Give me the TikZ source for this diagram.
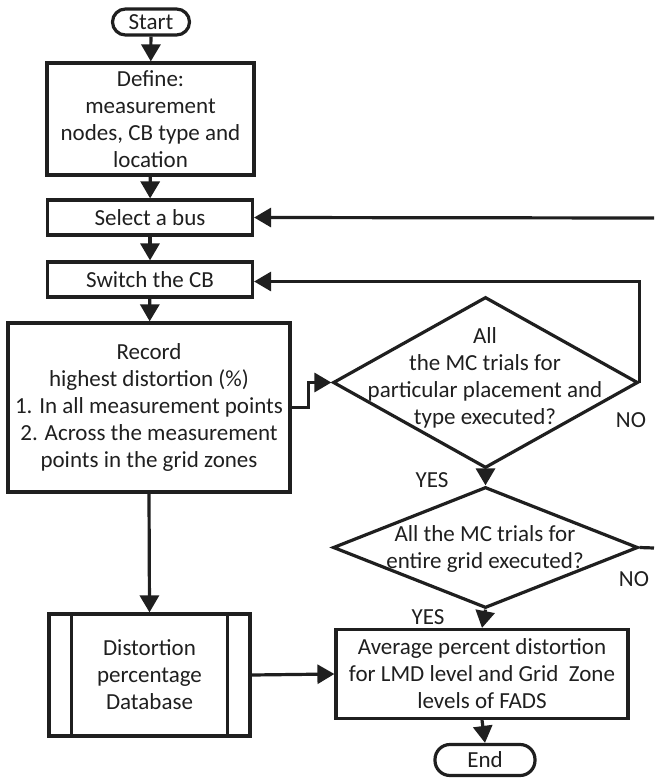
\documentclass[tikz,border=0pt]{standalone}
\usepackage{fontspec}
\setmainfont{Carlito}
\usetikzlibrary{shapes.geometric,arrows.meta,calc}
\begin{document}
\begin{tikzpicture}[x=1pt,y=-1pt,
  every node/.style={font=\fontsize{23}{27}\selectfont, text=black!88},
  ln/.style={line width=3.2pt, draw=black!88},
  arr/.style={ln, -{Triangle[length=17pt,width=19pt]}},
  box/.style={ln, rectangle, inner sep=0pt, align=center},
  term/.style={ln, rectangle, rounded corners=13pt, inner sep=0pt},
  dia/.style={ln, diamond, inner sep=0pt},
  lbl/.style={inner sep=0pt}]
\useasboundingbox (0,0) rectangle (654,779);
% nodes
\node[term, minimum width=77pt, minimum height=26pt] (start) at (151,22) {Start};
\node[box, minimum width=207pt, minimum height=112pt] (def) at (150.5,119) {Define:\\measurement\\nodes, CB type and\\location};
\node[box, minimum width=205pt, minimum height=35pt] (sel) at (150,217.5) {Select a bus};
\node[box, minimum width=205pt, minimum height=35pt] (sw) at (150,279.5) {Switch the CB};
\node[box, minimum width=282pt, minimum height=169pt] (rec) at (149,407.5) {Record\\highest distortion (\%)\\1. In all measurement points\\2. Across the measurement\\points in the grid zones};
\node[dia, minimum width=305pt, minimum height=171pt] (d1) at (485.5,382.5) {};
\node[lbl, align=center] (d1t) at (485,378) {All\\the MC trials for\\particular placement and\\type executed?};
\node[dia, minimum width=305pt, minimum height=121pt] (d2) at (485.5,547.5) {};
\node[lbl, align=center] (d2t) at (485,549) {All the MC trials for\\entire grid executed?};
\node[box, minimum width=201pt, minimum height=122pt] (db) at (149.5,675) {Distortion\\percentage\\Database};
\draw[ln] ($(db.north west)+(24,0)$) -- ($(db.south west)+(24,0)$);
\draw[ln] ($(db.north east)+(-24,0)$) -- ($(db.south east)+(-24,0)$);
\node[box, minimum width=292pt, minimum height=89pt] (avg) at (482,674) {Average percent distortion\\for LMD level and Grid\ \ Zone\\levels of FADS};
\node[term, minimum width=100pt, minimum height=31pt, rounded corners=15pt] (end) at (485,760) {End};
\node[lbl] (no1) at (631,420) {NO};
\node[lbl] (yes1) at (432,480) {YES};
\node[lbl] (no2) at (634,579) {NO};
\node[lbl] (yes2) at (428,617) {YES};
\coordinate (edge1) at (654,218);
\coordinate (edge2) at (654,548);
% connectors
\draw[arr] (start) -- (def);
\draw[arr] (def) -- (sel);
\draw[arr] (sel) -- (sw);
\draw[arr] (sw) -- (rec);
\draw[arr] (rec.east) -- ++(17,0) |- (d1.west);
\draw[arr] (d1.east) |- ($(sw.east)+(0,2)$);
\draw[arr] (d1.south) -- (d2.north);
\draw[ln] (d2.east) -- (edge2);
\draw[arr] (edge1) -- (sel.east);
\draw[arr] (d2.south) -- (avg.north);
\draw[arr] (rec.south) -- (db.north);
\draw[arr] (db.east) -- (avg.west);
\draw[arr] (avg.south) -- (end.north);
\end{tikzpicture}
\end{document}
